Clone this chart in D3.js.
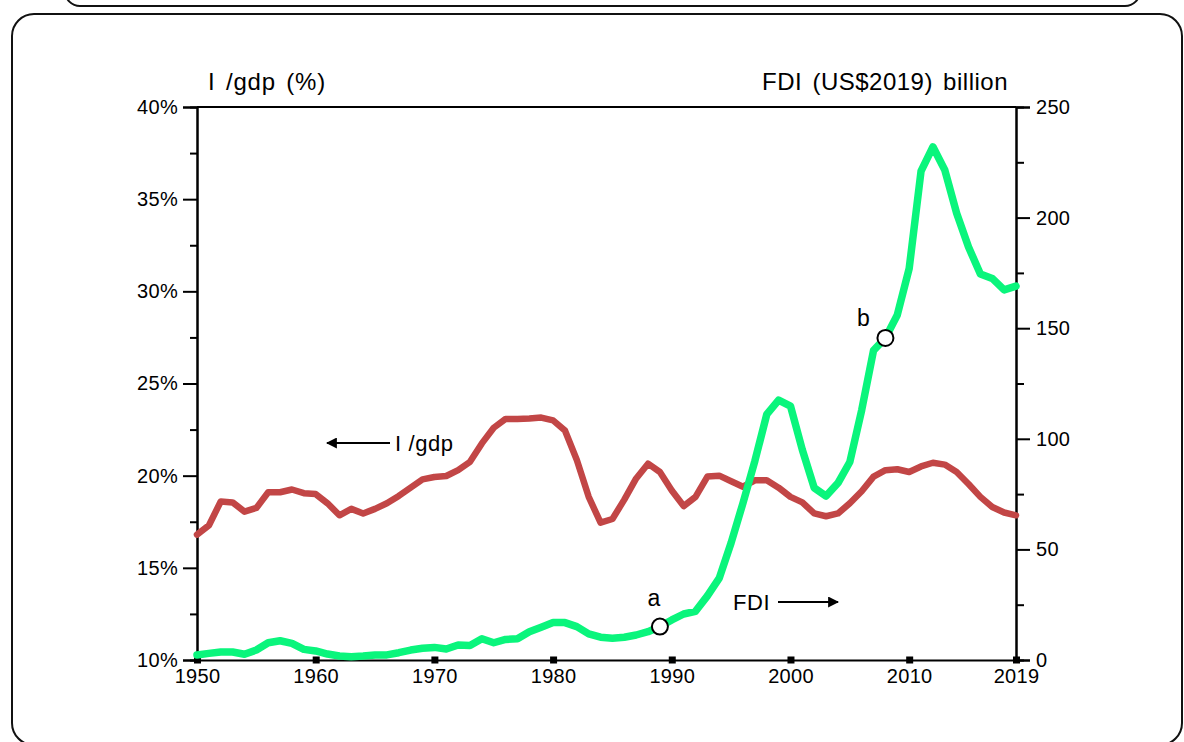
<!DOCTYPE html>
<html>
<head>
<meta charset="utf-8">
<script src="https://cdn.jsdelivr.net/npm/d3@7"></script>
<style>
html,body{margin:0;padding:0;background:#fff;}
svg{display:block;}
text{font-family:"Liberation Sans",Arial,Helvetica,sans-serif;fill:#000;}
</style>
</head>
<body>
<svg id="chart" width="1184" height="742"></svg>
<script>
// ---- data ----
const years = d3.range(1950, 2020);
const igdp = [
  16.8,17.3,18.6,18.55,18.05,18.25,19.1,19.1,19.25,19.05,
  19.0,18.5,17.85,18.2,17.95,18.2,18.5,18.9,19.35,19.8,
  19.93,19.98,20.3,20.75,21.75,22.6,23.08,23.08,23.1,23.15,
  23.0,22.45,20.85,18.85,17.45,17.65,18.7,19.85,20.65,20.2,
  19.2,18.35,18.85,19.95,20.0,19.7,19.4,19.75,19.75,19.35,
  18.85,18.55,17.95,17.8,17.95,18.5,19.15,19.95,20.3,20.35,
  20.2,20.5,20.7,20.6,20.2,19.55,18.85,18.3,18.0,17.85
];
const fdi = [
  2.3,3.0,3.6,3.6,2.6,4.5,7.8,8.7,7.5,4.8,
  4.1,2.7,1.8,1.5,1.8,2.3,2.3,3.3,4.5,5.3,
  5.7,5.0,6.8,6.6,9.6,7.8,9.3,9.6,12.8,14.8,
  16.9,16.9,15.1,11.8,10.3,9.8,10.3,11.3,12.8,15.1,
  18.1,20.8,22.0,29.0,37.0,53.0,71.0,90.0,111.0,117.5,
  114.8,95.0,77.8,74.1,80.0,89.5,113.0,140.0,145.6,156.0,
  177.0,221.0,232.0,221.5,202.0,186.7,174.5,172.5,167.3,169.0
];
const leftMajor = [10,15,20,25,30,35,40];
const leftMinor = [12.5,17.5,22.5,27.5,32.5,37.5];
const rightMajor = [0,50,100,150,200,250];
const rightMinor = [25,75,125,175,225];
const xTicks = [1950,1960,1970,1980,1990,2000,2010,2019];
const markerYears = [1989, 2008];
const markerLabels = ["a", "b"];

// ---- layout ----
const L = 197, R = 1016, T = 107, B = 660;
const svg = d3.select("#chart");

// frames
svg.append("rect").attr("x",65).attr("y",-40).attr("width",1075).attr("height",46)
  .attr("rx",15).attr("fill","none").attr("stroke","#111").attr("stroke-width",2);
svg.append("rect").attr("x",12).attr("y",14).attr("width",1170).attr("height",731)
  .attr("rx",22).attr("fill","none").attr("stroke","#111").attr("stroke-width",2);

const x = d3.scaleLinear().domain([1950,2019]).range([L,R]);
const yL = d3.scaleLinear().domain([10,40]).range([B,T]);
const yR = d3.scaleLinear().domain([0,250]).range([B,T]);

// top border line
svg.append("line").attr("x1",L).attr("x2",R).attr("y1",T).attr("y2",T)
  .attr("stroke","#000").attr("stroke-width",2);

// left axis
svg.append("g").attr("transform",`translate(${L},0)`)
  .call(d3.axisLeft(yL).tickValues(leftMajor).tickSize(14).tickPadding(5).tickFormat(d=>d+"%"));
svg.append("g").attr("transform",`translate(${L},0)`)
  .call(d3.axisLeft(yL).tickValues(leftMinor).tickSize(7).tickFormat(""));
// right axis
svg.append("g").attr("transform",`translate(${R},0)`)
  .call(d3.axisRight(yR).tickValues(rightMajor).tickSize(14).tickPadding(6).tickFormat(d3.format("d")));
svg.append("g").attr("transform",`translate(${R},0)`)
  .call(d3.axisRight(yR).tickValues(rightMinor).tickSize(8).tickFormat(""));
// bottom axis
const gb = svg.append("g").attr("transform",`translate(0,${B})`)
  .call(d3.axisBottom(x).tickValues(xTicks).tickSize(0).tickPadding(9).tickFormat(d3.format("d")));
gb.selectAll(".tick").append("rect").attr("x",-3.5).attr("y",-3.5).attr("width",7).attr("height",7).attr("fill","#000");

svg.selectAll(".domain").attr("stroke","#000").attr("stroke-width",2);
svg.selectAll(".tick line").attr("stroke","#000").attr("stroke-width",2);
svg.selectAll(".tick text").attr("font-size",20).attr("letter-spacing",0.3)
  .attr("font-family","'Liberation Sans',Arial,sans-serif").attr("fill","#000");

// lines
const lineL = d3.line().x((d,i)=>x(years[i])).y(d=>yL(d)).curve(d3.curveLinear);
const lineR = d3.line().x((d,i)=>x(years[i])).y(d=>yR(d)).curve(d3.curveLinear);
svg.append("path").datum(igdp).attr("d",lineL).attr("fill","none")
  .attr("stroke","#c24646").attr("stroke-width",6.5).attr("stroke-linejoin","round").attr("stroke-linecap","round");
svg.append("path").datum(fdi).attr("d",lineR).attr("fill","none")
  .attr("stroke","#0af57c").attr("stroke-width",7.5).attr("stroke-linejoin","round").attr("stroke-linecap","round");

// markers
const labelOffsets = [[-6,-21],[-22,-12]];
markerYears.forEach((yr,k)=>{
  const i = years.indexOf(yr);
  const cx = x(yr), cy = yR(fdi[i]);
  svg.append("circle").attr("cx",cx).attr("cy",cy).attr("r",8)
    .attr("fill","#fff").attr("stroke","#000").attr("stroke-width",2);
  svg.append("text").attr("x",cx+labelOffsets[k][0]).attr("y",cy+labelOffsets[k][1]).attr("text-anchor","middle")
    .attr("font-size",23).text(markerLabels[k]);
});

// arrow marker defs
const defs = svg.append("defs");
defs.append("marker").attr("id","ah").attr("viewBox","0 0 10 10").attr("refX",9).attr("refY",5)
  .attr("markerWidth",5).attr("markerHeight",5).attr("orient","auto")
  .append("path").attr("d","M0,0 L10,5 L0,10 z").attr("fill","#000");

// annotations
svg.append("line").attr("x1",390).attr("y1",443).attr("x2",327).attr("y2",443)
  .attr("stroke","#000").attr("stroke-width",2.2).attr("marker-end","url(#ah)");
svg.append("text").attr("x",395).attr("y",451).attr("font-size",22).attr("letter-spacing",0.6).text("I /gdp");
svg.append("line").attr("x1",778).attr("y1",602).attr("x2",838).attr("y2",602)
  .attr("stroke","#000").attr("stroke-width",2.2).attr("marker-end","url(#ah)");
svg.append("text").attr("x",733).attr("y",610).attr("font-size",22).attr("letter-spacing",0.6).text("FDI");

// axis titles
svg.append("text").attr("x",208).attr("y",90).attr("font-size",24).attr("letter-spacing",0.8)
  .attr("word-spacing",3).text("I /gdp (%)");
svg.append("text").attr("x",1008).attr("y",90).attr("text-anchor","end").attr("font-size",24)
  .attr("letter-spacing",0.5).attr("word-spacing",3).text("FDI (US$2019) billion");
</script>
</body>
</html>
